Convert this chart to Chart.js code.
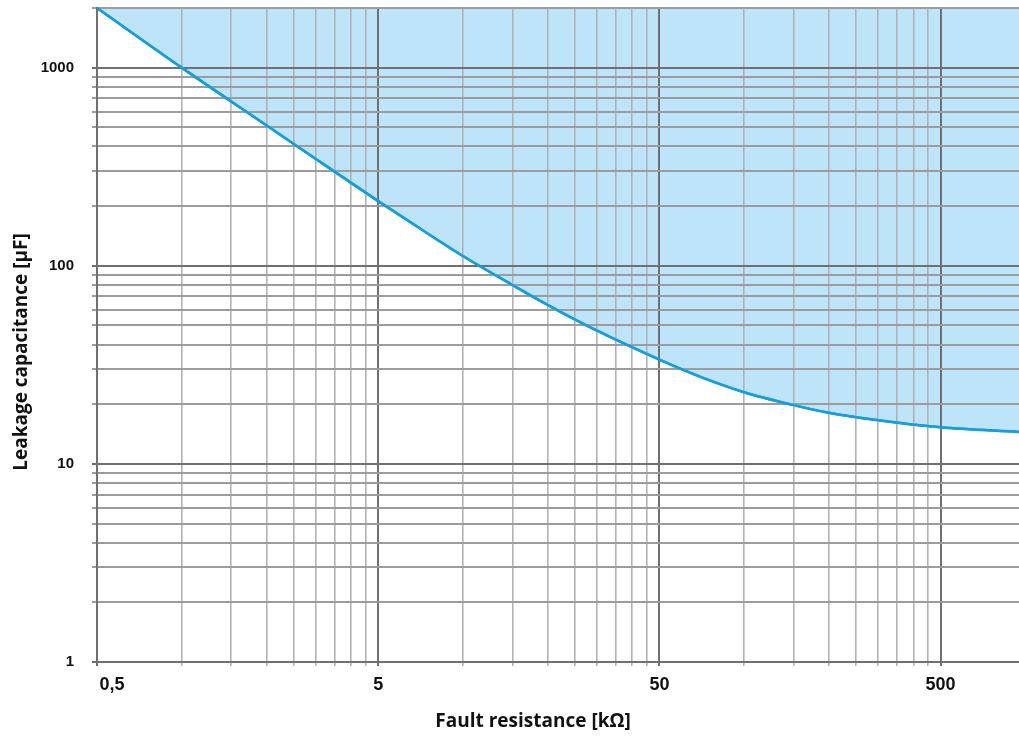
<!DOCTYPE html>
<html>
<head>
<meta charset="utf-8">
<script src="https://cdn.jsdelivr.net/npm/chart.js@4/dist/chart.umd.min.js"></script>
<style>
  body { margin: 0; background: #fff; }
  canvas { display: block; }
</style>
</head>
<body>
<canvas id="chart" width="1019" height="738"></canvas>
<script>
// Values
var resistance = [0.5, 1, 2, 3, 5, 7, 10, 15, 20, 30, 50, 70, 100, 150, 200, 300, 500, 950];
var capacitance = [2000, 1000, 512, 346, 212, 155, 112, 80, 63.5, 47, 33.6, 27.5, 23, 19.8, 18.1, 16.6, 15.3, 14.5];

// Grid lines / tick labels
var x_ticks = [0.5, 1, 1.5, 2, 2.5, 3, 3.5, 4, 4.5, 5, 10, 15, 20, 25, 30, 35, 40, 45, 50,
  100, 150, 200, 250, 300, 350, 400, 450, 500];
var x_major = [0.5, 5, 50, 500];
var x_labels = ["      0,5", "5", "50", "500"];
var y_ticks = [1, 2, 3, 4, 5, 6, 7, 8, 9, 10, 20, 30, 40, 50, 60, 70, 80, 90,
  100, 200, 300, 400, 500, 600, 700, 800, 900, 1000, 2000];
var y_major = [1, 10, 100, 1000];
var y_labels = ["1", "10", "100", "1000"];

var x_title = "Fault resistance [kΩ]";
var y_title = "Leakage capacitance [µF]";

var points = resistance.map(function (r, i) { return { x: r, y: capacitance[i] }; });

// line above the grid, titles off-centre like the original
var finishing = {
  id: 'finishing',
  afterDraw: function (chart) {
    var ctx = chart.ctx;
    var area = chart.chartArea;
    ctx.save();
    ctx.beginPath();
    ctx.rect(area.left, area.top - 3, area.right - area.left, area.bottom - area.top + 6);
    ctx.clip();
    chart.getDatasetMeta(0).dataset.draw(ctx, area);
    ctx.restore();

    ctx.save();
    ctx.fillStyle = '#111';
    ctx.font = 'bold 19px "Open Sans"';
    ctx.textAlign = 'center';
    ctx.textBaseline = 'middle';
    ctx.fillText(x_title, 533, 722);
    ctx.translate(22, 352);
    ctx.rotate(-Math.PI / 2);
    ctx.fillText(y_title, 0, 0);
    ctx.restore();
  }
};

new Chart(document.getElementById('chart'), {
  type: 'line',
  data: {
    datasets: [{
      data: points,
      borderColor: '#129ee0',
      borderWidth: 2.5,
      backgroundColor: '#bee4f9',
      fill: 'end',
      pointRadius: 0,
      cubicInterpolationMode: 'monotone'
    }]
  },
  options: {
    responsive: false,
    devicePixelRatio: 1,
    animation: false,
    layout: { padding: { left: 37, top: 8, right: 0, bottom: 0 } },
    plugins: { legend: { display: false }, tooltip: { enabled: false } },
    scales: {
      x: {
        type: 'logarithmic',
        min: 0.5,
        max: 950,
        afterBuildTicks: function (scale) {
          scale.ticks = x_ticks.map(function (v) { return { value: v }; });
        },
        afterFit: function (scale) {
          scale.height = 76;
          scale.paddingLeft = 0;
          scale.paddingRight = 0;
        },
        border: { display: true, color: '#707070', width: 2, z: 1 },
        grid: {
          z: 1,
          tickLength: 4,
          color: function (c) { return x_major.indexOf(c.tick.value) >= 0 ? '#707070' : '#b2b2b2'; },
          lineWidth: function (c) { return x_major.indexOf(c.tick.value) >= 0 ? 2 : 1.6; }
        },
        ticks: {
          autoSkip: false,
          maxRotation: 0,
          padding: 8,
          color: '#111',
          font: { family: '"Liberation Sans", Arial', size: 18, weight: 'bold' },
          callback: function (v) {
            var i = x_major.indexOf(v);
            return i >= 0 ? x_labels[i] : '';
          }
        }
      },
      y: {
        type: 'logarithmic',
        min: 1,
        max: 2000,
        afterBuildTicks: function (scale) {
          scale.ticks = y_ticks.map(function (v) { return { value: v }; });
        },
        afterFit: function (scale) {
          scale.width = 60;
          scale.paddingTop = 0;
          scale.paddingBottom = 0;
        },
        border: { display: true, color: '#707070', width: 2, z: 1 },
        grid: {
          z: 1,
          tickLength: 5,
          color: function (c) { return y_major.indexOf(c.tick.value) >= 0 ? '#707070' : '#9c9c9c'; },
          lineWidth: 2
        },
        ticks: {
          autoSkip: false,
          padding: 18,
          color: '#111',
          font: { family: '"Liberation Sans", Arial', size: 15, weight: 'bold' },
          callback: function (v) {
            var i = y_major.indexOf(v);
            return i >= 0 ? y_labels[i] : '';
          }
        }
      }
    }
  },
  plugins: [finishing]
});
</script>
</body>
</html>
